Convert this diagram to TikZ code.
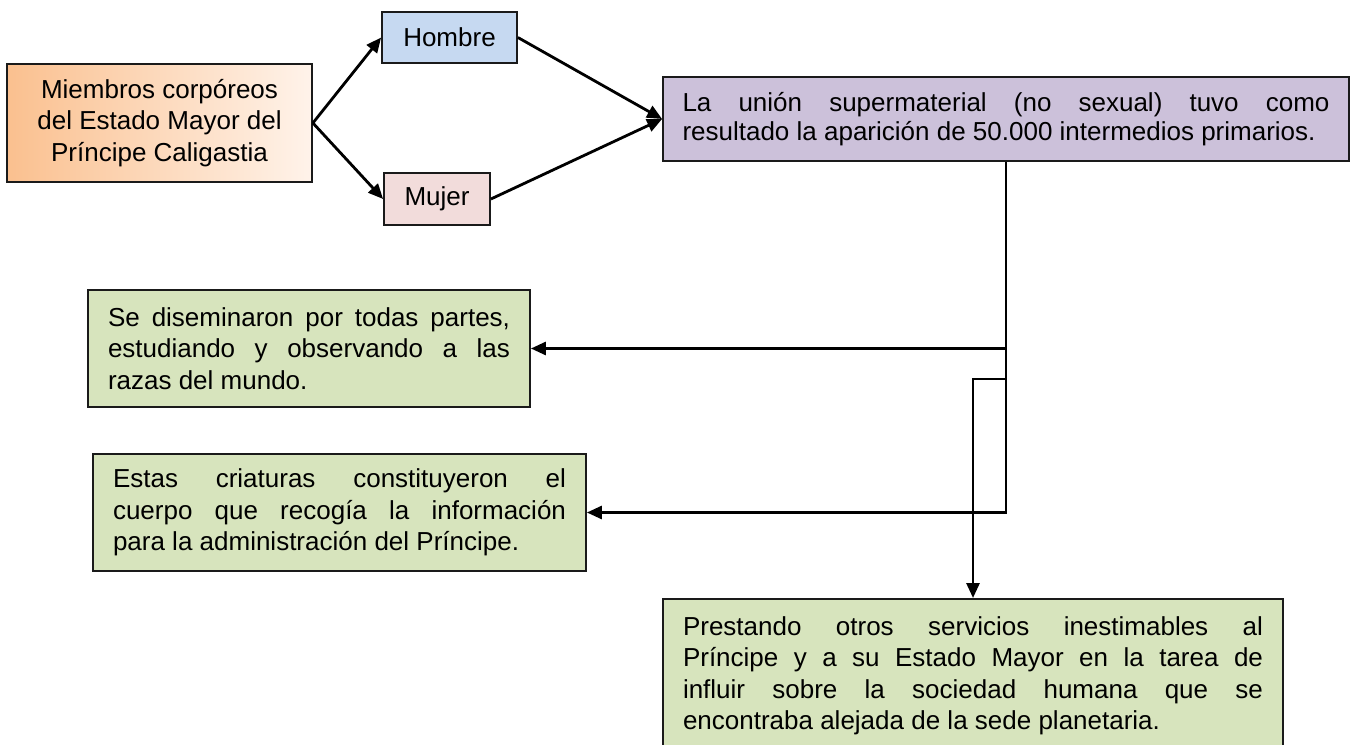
\documentclass[tikz,border=0pt]{standalone}
\usepackage{fontspec}
\setmainfont{Liberation Sans}
\usetikzlibrary{arrows.meta}
\definecolor{bordc}{HTML}{1A1A1A}
\definecolor{orL}{HTML}{FAC08F}
\definecolor{orR}{HTML}{FFF3EA}
\definecolor{blueF}{HTML}{C6D9F1}
\definecolor{pinkF}{HTML}{F2DCDB}
\definecolor{purF}{HTML}{CCC1DA}
\definecolor{grnF}{HTML}{D7E4BD}
\tolerance=10000
\hbadness=10000
\hyphenpenalty=10000
\exhyphenpenalty=10000
\newcommand{\bigtxt}{\fontsize{26}{31.5}\selectfont}
\newcommand{\bigtxtb}{\fontsize{26}{29}\selectfont}
\begin{document}
\begin{tikzpicture}[x=1pt,y=-1pt,
  box/.style={draw=bordc, line width=1.8pt, inner sep=0pt, font=\bigtxt},
  jbox/.style={box, align=justify},
  conn/.style={line width=2.8pt, draw=black, -{Triangle[length=15pt,width=13pt]}}]
\useasboundingbox (0,0) rectangle (1351,744);

\node[box, left color=orL, right color=orR, minimum width=305pt, minimum height=118pt, align=center]
  (src) at (159.5,123) {Miembros corpóreos\\del Estado Mayor del\\Príncipe Caligastia};
\node[box, fill=blueF, minimum width=135pt, minimum height=51pt] (hom) at (449.5,37.5) {Hombre};
\node[box, fill=pinkF, minimum width=106pt, minimum height=52pt] (muj) at (437,199) {Mujer};
\node[jbox, fill=purF, minimum width=686pt, minimum height=84pt, text width=647pt, font=\bigtxtb]
  (uni) at (1006,119) {La unión supermaterial (no sexual) tuvo como\linebreak resultado la aparición de 50.000 intermedios primarios.};
\node[jbox, fill=grnF, minimum width=442pt, minimum height=117pt, text width=402pt]
  (b1) at (309,348.5) {Se diseminaron por todas partes,\linebreak estudiando y observando a las\linebreak razas del mundo.};
\node[jbox, fill=grnF, minimum width=493pt, minimum height=117pt, text width=453pt]
  (b2) at (339.5,512.5) {Estas criaturas constituyeron el\linebreak cuerpo que recogía la información\linebreak para la administración del Príncipe.};
\node[jbox, fill=grnF, minimum width=620pt, minimum height=154pt, text width=580pt, anchor=north]
  (bot) at (973,598) {Prestando otros servicios inestimables al\linebreak Príncipe y a su Estado Mayor en la tarea de\linebreak influir sobre la sociedad humana que se\linebreak encontraba alejada de la sede planetaria.};

\draw[conn] (src.east) -- (hom.west);
\draw[conn] (src.east) -- (muj.west);
\draw[conn] (hom.east) -- (uni.west);
\draw[conn] (muj.east) -- (uni.west);
\draw[conn] (uni.south) |- (b2.east);
\draw[conn] (uni.south |- b1.east) -- (b1.east);
\coordinate (br) at (1006,379);
\draw[conn] (br) -| (bot.north);
\end{tikzpicture}
\end{document}
